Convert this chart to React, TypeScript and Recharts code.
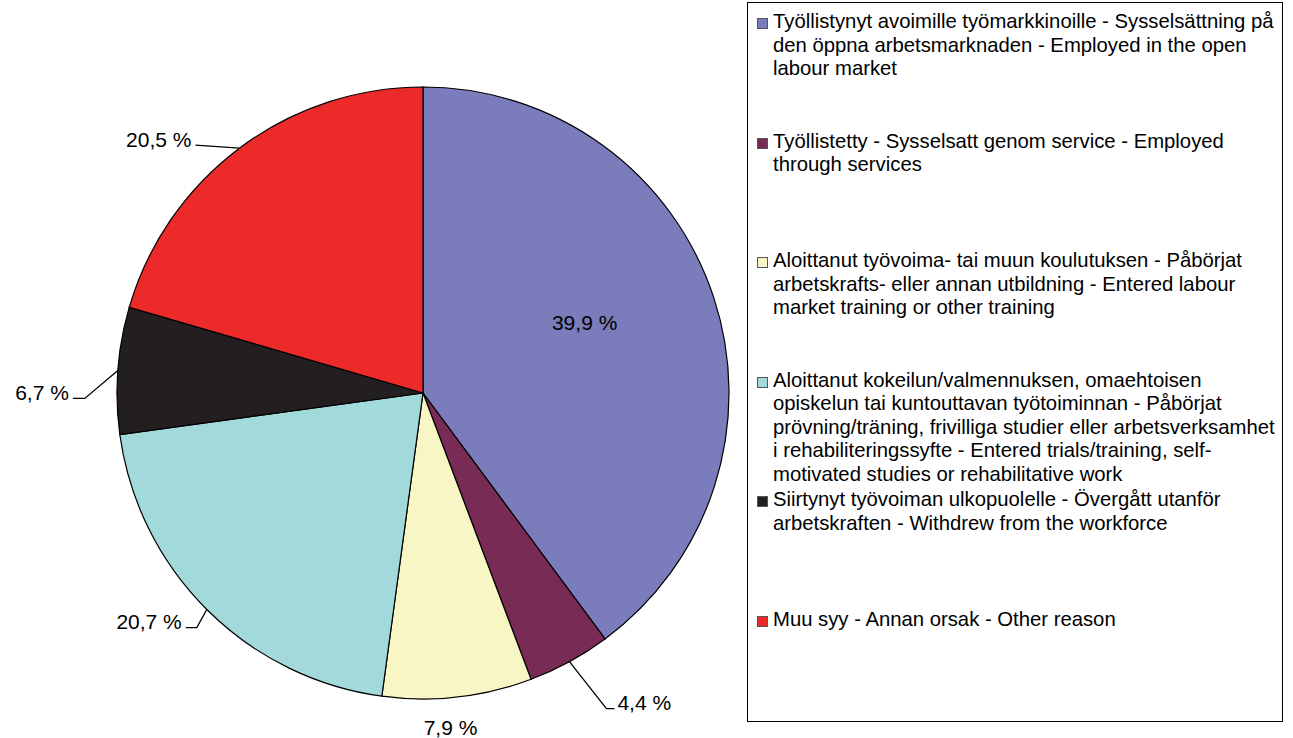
import React from "react";
import { PieChart, Pie, Cell, Legend } from "recharts";

const categories = [
  "Työllistynyt avoimille työmarkkinoille - Sysselsättning på den öppna arbetsmarknaden - Employed in the open labour market",
  "Työllistetty - Sysselsatt genom service - Employed through services",
  "Aloittanut työvoima- tai muun koulutuksen - Påbörjat arbetskrafts- eller annan utbildning - Entered labour market training or other training",
  "Aloittanut kokeilun/valmennuksen, omaehtoisen opiskelun tai kuntouttavan työtoiminnan - Påbörjat prövning/träning, frivilliga studier eller arbetsverksamhet i rehabiliteringssyfte - Entered trials/training, self-motivated studies or rehabilitative work",
  "Siirtynyt työvoiman ulkopuolelle - Övergått utanför arbetskraften - Withdrew from the workforce",
  "Muu syy - Annan orsak - Other reason",
];

const shares = [39.9, 4.4, 7.9, 20.7, 6.7, 20.5];

const colors = ["#7B7CBC", "#782B55", "#F8F6C4", "#A2D9DB", "#231F20", "#EC2A2A"];

const data = categories.map((name, i) => ({ name, value: shares[i] }));

// leader line elbow offsets from slice edge, then horizontal run
const labelLayout: { inside?: boolean; dx?: number; dy?: number; run?: number; line?: boolean }[] = [
  { inside: true, dx: -4, dy: -16 },
  { dx: 37, dy: 47, run: 8, line: true },
  { dx: -7, dy: 30, run: 0, line: false },
  { dx: -10, dy: 18, run: -11, line: true },
  { dx: -33, dy: 28, run: -12, line: true },
  { dx: -44, dy: -3, run: 0, line: true },
];

const RADIAN = Math.PI / 180;
const fmt = (v: number) => `${v.toFixed(1).replace(".", ",")} %`;
const FONT = "Liberation Sans, Arial, sans-serif";
const LABEL_SIZE = 21;

const renderLabel = (props: any) => {
  const { cx, cy, midAngle, outerRadius, index, value } = props;
  const cfg = labelLayout[index];
  const cos = Math.cos(-midAngle * RADIAN);
  const sin = Math.sin(-midAngle * RADIAN);
  if (cfg.inside) {
    const r = outerRadius * 0.57;
    return (
      <text x={cx + r * cos + (cfg.dx || 0)} y={cy + r * sin + (cfg.dy || 0)} textAnchor="middle" dominantBaseline="central"
        fontSize={LABEL_SIZE} fontFamily={FONT} fill="#000">
        {fmt(value)}
      </text>
    );
  }
  const ex = cx + outerRadius * cos;
  const ey = cy + outerRadius * sin;
  const bx = ex + (cfg.dx || 0);
  const by = ey + (cfg.dy || 0);
  const tx = bx + (cfg.run || 0);
  const right = tx > cx;
  const anchor = cfg.line ? (right ? "start" : "end") : "middle";
  const textX = cfg.line ? tx + (right ? 3 : -4) : tx;
  const textY = cfg.line ? by - 6 : by;
  return (
    <g>
      {cfg.line && (
        <polyline points={`${ex},${ey} ${bx},${by} ${tx},${by}`} fill="none" stroke="#000" strokeWidth={1.3} />
      )}
      <text x={textX} y={textY} textAnchor={anchor} dominantBaseline="central"
        fontSize={LABEL_SIZE} fontFamily={FONT} fill="#000">
        {fmt(value)}
      </text>
    </g>
  );
};

const renderLegend = () => (
  <div style={{ position: "relative", width: "100%", height: "100%", fontFamily: FONT, fontSize: 20.3, lineHeight: "23.5px", color: "#000" }}>
    {categories.map((name, i) => (
      <div key={name} style={{ position: "absolute", left: 9, top: 7 + i * 119.6, width: 526, display: "flex" }}>
        <span style={{ display: "inline-block", width: 9, height: 9, marginTop: 8, marginRight: 5, flex: "none",
          background: colors[i], border: "1px solid #555" }} />
        <span style={{ width: 508 }}>{name}</span>
      </div>
    ))}
  </div>
);

const App = () => {
  return (
    <div style={{ position: "absolute", left: 0, top: 0 }}>
      <PieChart width={1293} height={738} margin={{ top: 0, right: 0, bottom: 0, left: 0 }}>
        <Pie
          data={data}
          dataKey="value"
          nameKey="name"
          cx={423}
          cy={393}
          outerRadius={306}
          startAngle={90}
          endAngle={-270}
          stroke="#000"
          strokeWidth={1.2}
          label={renderLabel}
          labelLine={false}
          isAnimationActive={false}
        >
          {data.map((d, i) => (
            <Cell key={d.name} fill={colors[i]} />
          ))}
        </Pie>
        <Legend
          layout="vertical"
          align="right"
          verticalAlign="top"
          content={renderLegend}
          wrapperStyle={{ left: 747, top: 2, width: 536, height: 720, border: "1px solid #000", boxSizing: "border-box", background: "#fff" }}
        />
      </PieChart>
    </div>
  );
};

export default App;
